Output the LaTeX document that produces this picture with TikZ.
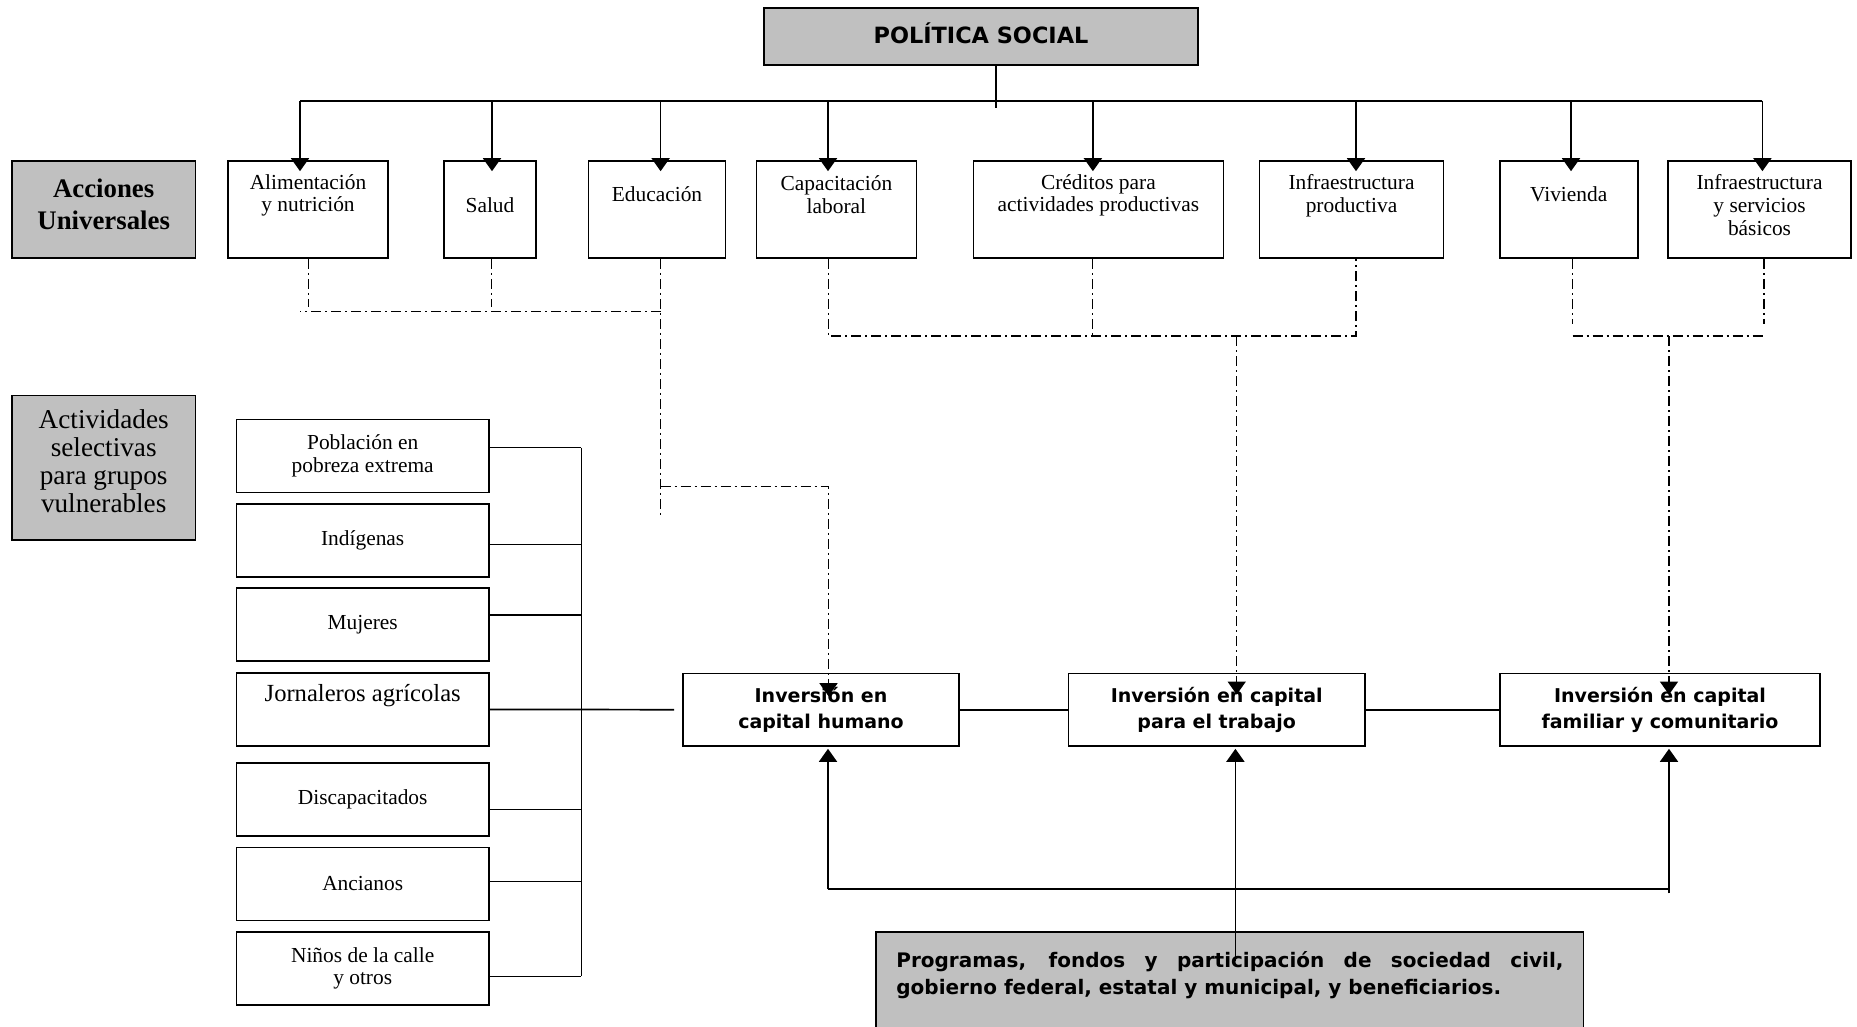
\documentclass[tikz,border=0pt]{standalone}
\usepackage{fontspec}
\setmainfont{Liberation Serif}
\newfontfamily\headsans{DejaVu Sans}
\usetikzlibrary{arrows.meta,positioning}
\definecolor{panelgray}{RGB}{192,192,192}

\begin{document}
\begin{tikzpicture}[
    x=0.5pt, y=-0.5pt,
    every node/.style={inner sep=0pt},
    box/.style={draw, line width=0.8pt, minimum height=48.5pt, align=center},
    graybox/.style={box, fill=panelgray},
    grpbox/.style={draw, line width=0.8pt, minimum width=126.3pt, minimum height=36.5pt, align=center, font=\fontsize{10.7}{11.3}\selectfont},
    invbox/.style={draw, line width=0.8pt, minimum height=36.3pt, align=center, font=\headsans\bfseries\fontsize{9.5}{13}\selectfont},
    lbl/.style={align=center, font=\fontsize{10.7}{11.3}\selectfont},
    link/.style={line width=0.85pt},
    arrow/.style={-{Triangle[length=6.5pt,width=9pt]}, line width=0.85pt},
    dashdot/.style={line width=0.7pt, dash pattern=on 5pt off 2pt on 1pt off 2pt},
    darrow/.style={dashdot, -{Triangle[length=6.5pt,width=9pt]}}
]
\useasboundingbox (0,0) rectangle (1857,1027);

% top
\node[graybox, minimum width=217pt, minimum height=28.5pt] (pol) at (981,36.5) {};
\node[font=\headsans\bfseries\fontsize{11.2}{13}\selectfont] (polT) at (981,33) {POLÍTICA SOCIAL};

% acciones universales
\node[graybox, minimum width=91.7pt] (acc) at (103.7,209.5) {};
\node[align=center, font=\bfseries\fontsize{13.4}{16}\selectfont] (accT) at (103.7,204) {Acciones\\Universales};
\node[box, minimum width=80pt] (alim) at (308,209.5) {};
\node[box, minimum width=46pt] (salud) at (490,209.5) {};
\node[box, minimum width=68.5pt] (edu) at (657,209.5) {};
\node[box, minimum width=80pt] (cap) at (836.4,209.5) {};
\node[box, minimum width=125pt] (cred) at (1098.4,209.5) {};
\node[box, minimum width=92pt] (infp) at (1351.5,209.5) {};
\node[box, minimum width=69pt] (viv) at (1568.7,209.5) {};
\node[box, minimum width=91.5pt] (infs) at (1759.5,209.5) {};

\node[lbl] (alimT) at (308,195.5) {Alimentación\\y nutrición};
\node[lbl] (saludT) at (490,205) {Salud};
\node[lbl] (eduT) at (657,194) {Educación};
\node[lbl] (capT) at (836.4,194.5) {Capacitación\\laboral};
\node[lbl] (credT) at (1098.4,195.5) {Créditos para\\actividades productivas};
\node[lbl] (infpT) at (1351.5,195.5) {Infraestructura\\productiva};
\node[lbl] (vivT) at (1568.7,194) {Vivienda};
\node[lbl] (infsT) at (1759.5,205) {Infraestructura\\y servicios\\básicos};

% grupos vulnerables
\node[graybox, minimum width=91.7pt, minimum height=72.2pt] (act) at (103.7,467.7) {};
\node[align=center, font=\fontsize{13.6}{14}\selectfont] (actT) at (103.7,461.5) {Actividades\\selectivas\\para grupos\\vulnerables};
\node[grpbox] (pob) at (362.7,456) {Población en\\pobreza extrema};
\node[grpbox, below=5pt of pob] (ind) {Indígenas};
\node[grpbox, below=4.5pt of ind] (muj) {Mujeres};
\node[grpbox, below=5.3pt of muj] (jorn) {};
\node[grpbox, below=7.8pt of jorn] (dis) {Discapacitados};
\node[grpbox, below=4.8pt of dis] (anc) {Ancianos};
\node[grpbox, below=5pt of anc] (nin) {Niños de la calle\\y otros};
\node[font=\fontsize{12.3}{13}\selectfont] (jornT) at ([yshift=7pt]jorn.center) {Jornaleros agrícolas};

% inversion
\node[invbox, minimum width=138pt] (hum) at (821,709.7) {Inversión en\\capital humano};
\node[invbox, minimum width=148.3pt] (trab) at (1216.7,709.7) {Inversión en capital\\para el trabajo};
\node[invbox, minimum width=160pt] (fam) at (1660,709.7) {Inversión en capital\\familiar y comunitario};

% programas
\node[draw, line width=0.8pt, fill=panelgray, minimum width=353.9pt, minimum height=51.5pt] (prog) at (1229.6,983.3) {};
\node[anchor=north west, text width=333.5pt, align=justify, font=\headsans\bfseries\fontsize{10}{13.6}\selectfont] (progT) at (896,951) {Programas, fondos y participación de sociedad civil, \mbox{gobierno} federal, estatal y municipal, y beneficiarios.};

% bus from politica social
\coordinate (busL) at (300,100.7);
\coordinate (busR) at (1762.4,100.7);
\draw[link] (busL) -- (busR);
\draw[link] (pol.south -| 995.8,0) -- ++(0,42);
\foreach \n/\x in {alim/300,salud/492,edu/660.6,cap/828,cred/1092.9,infp/1356,viv/1571,infs/1762.4}
  \draw[arrow] (busL -| \x,0) -- ([yshift=-5.5pt]\n.north -| \x,0);

% dashed links to capital humano
\coordinate (eduD) at (edu.south -| 660.7,0);
\draw[dashdot] (alim.south -| 308.5,0) -- ++(0,48);
\draw[dashdot] (salud.south -| 491.5,0) -- ++(0,48);
\draw[dashdot] (eduD) -- ++(0,258);
\draw[dashdot] (eduD |- 0,311.7) -- (busL |- 0,311.7);
\draw[darrow] (eduD |- 0,486.7) -| ([yshift=-11.8pt]hum.north -| 828.5,0);

% dashed links to capital para el trabajo
\coordinate (capD) at (cap.south -| 828.5,0);
\coordinate (credD) at (cred.south -| 1092.4,0);
\coordinate (infpD) at (infp.south -| 1356,0);
\coordinate (jB) at (1236.7,336);
\draw[dashdot] (capD) -- (capD |- jB) -- (infpD |- jB) -- (infpD);
\draw[dashdot] (credD) -- (credD |- jB);
\draw[darrow] (jB) -- ([yshift=-11pt]trab.north -| jB);

% dashed links to capital familiar
\coordinate (vivD) at (viv.south -| 1572.7,0);
\coordinate (infsD) at (infs.south -| 1764,0);
\coordinate (jC) at (1669,336);
\draw[dashdot] (vivD) -- ++(0,65);
\draw[dashdot] (infsD) -- ++(0,65);
\draw[dashdot] (vivD |- jC) -- (infsD |- jC);
\draw[darrow] (jC) -- ([yshift=-11pt]fam.north -| jC);

% groups bracket
\coordinate (lbus) at (581.4,0);
\foreach \n/\dy in {pob/4.2,ind/-1.9,muj/4.6,dis/-5,anc/1.2,nin/-4}
  \draw[link] ([yshift=\dy pt]\n.east) -- ([yshift=\dy pt]\n.east -| lbus);
\draw[link] ([yshift=4.2pt]pob.east -| lbus) -- ([yshift=-4pt]nin.east -| lbus);
\draw[link] (jorn.east) -- ([xshift=-4pt]hum.west);
\draw[link] (hum.east) -- (trab.west);
\draw[link] (trab.east) -- (fam.west);

% programas to inversion
\coordinate (fundL) at (828,889.3);
\coordinate (fundR) at (1669,889.3);
\draw[link] (fundL) -- (fundR);
\draw[arrow] (fundL) -- ([yshift=-1pt]hum.south -| fundL);
\draw[arrow] ([yshift=-2pt]fundR) -- ([yshift=-1pt]fam.south -| fundR);
\draw[arrow] ([yshift=-15pt]prog.north -| 1235.4,0) -- ([yshift=-1pt]trab.south -| 1235.4,0);

\end{tikzpicture}
\end{document}
